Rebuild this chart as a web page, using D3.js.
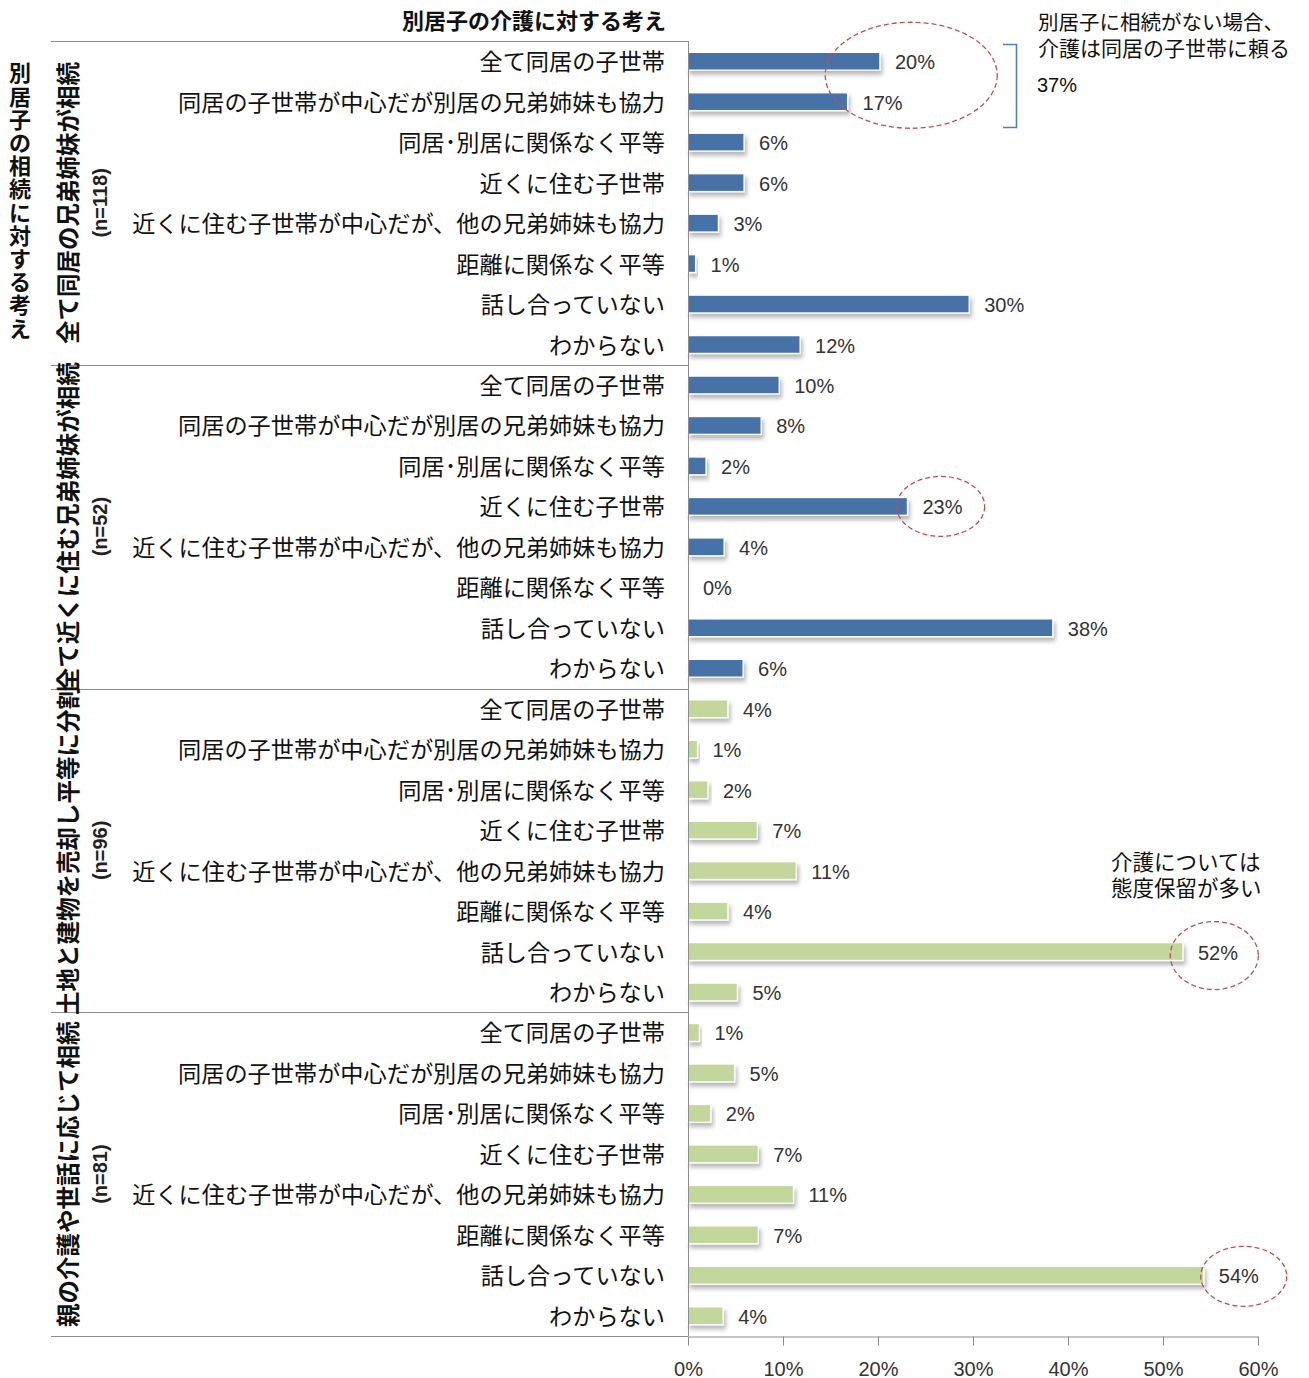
<!DOCTYPE html>
<html>
<head>
<meta charset="utf-8">
<script src="https://cdn.jsdelivr.net/npm/d3@7"></script>
<style>
  body { margin: 0; background: #fff; }
  text { font-family: "Noto Sans CJK JP", sans-serif; }
  .num { font-family: "Liberation Sans", "Noto Sans", sans-serif; }
</style>
</head>
<body>
<div id="chart"></div>
<script>
// 別居子の相続に対する考え x 別居子の介護に対する考え
var groups = ["全て同居の兄弟姉妹が相続", "全て近くに住む兄弟姉妹が相続", "土地と建物を売却し平等に分割", "親の介護や世話に応じて相続"];
var groupN = ["(n=118)", "(n=52)", "(n=96)", "(n=81)"];
var options = ["全て同居の子世帯", "同居の子世帯が中心だが別居の兄弟姉妹も協力", "同居･別居に関係なく平等", "近くに住む子世帯",
  "近くに住む子世帯が中心だが、他の兄弟姉妹も協力", "距離に関係なく平等", "話し合っていない", "わからない"];
var vals1 = [20.2, 16.8, 5.9, 5.9, 3.2, 0.8, 29.6, 11.8];
var vals2 = [9.6, 7.7, 1.9, 23.1, 3.8, 0, 38.4, 5.8];
var vals3 = [4.2, 1.0, 2.1, 7.3, 11.4, 4.2, 52.1, 5.2];
var vals4 = [1.2, 4.9, 2.4, 7.4, 11.1, 7.4, 54.3, 3.7];
var groupColor = ["#4672a8", "#4672a8", "#c3d69b", "#c3d69b"];
var xTicks = [0, 10, 20, 30, 40, 50, 60];
var leftTitle = "別居子の相続に対する考え";

var allVals = [vals1, vals2, vals3, vals4];
var rows = [];
allVals.forEach(function(vs, g){
  vs.forEach(function(v, i){
    rows.push({key: g + "-" + i, group: g, label: options[i], value: v});
  });
});

var width = 1309, height = 1378;
var plotLeft = 688, plotRight = 1258, plotTop = 41, plotBottom = 1336;

var svg = d3.select("#chart").append("svg")
  .attr("width", width).attr("height", height);

var defs = svg.append("defs");
var f = defs.append("filter").attr("id", "shadow")
  .attr("x", "-10%").attr("y", "-30%").attr("width", "130%").attr("height", "200%");
f.append("feDropShadow").attr("dx", 2).attr("dy", 4).attr("stdDeviation", 2)
  .attr("flood-color", "#000").attr("flood-opacity", 0.28);

var x = d3.scaleLinear().domain([0, 60]).range([plotLeft, plotRight]);
var y = d3.scaleBand().domain(rows.map(function(d){ return d.key; }))
  .range([plotTop, plotBottom]).paddingInner(0.56).paddingOuter(0.28);
var rowH = (plotBottom - plotTop) / rows.length;

// group separators
var sepY = d3.range(groups.length + 1).map(function(g){ return plotTop + g * 8 * rowH; });
svg.selectAll(".sep").data(sepY).enter().append("line")
  .attr("x1", 51).attr("x2", plotLeft)
  .attr("y1", function(d){ return Math.round(d) + 0.5; })
  .attr("y2", function(d){ return Math.round(d) + 0.5; })
  .style("stroke", "#8c8c8c").style("stroke-width", 1.2);

// bars
svg.append("g").selectAll("rect").data(rows.filter(function(d){ return d.value > 0; }))
  .enter().append("rect")
    .attr("x", plotLeft)
    .attr("y", function(d){ return y(d.key); })
    .attr("width", function(d){ return x(d.value) - plotLeft; })
    .attr("height", y.bandwidth())
    .attr("fill", function(d){ return groupColor[d.group]; })
    .style("stroke", "#fff").style("stroke-width", 1.3)
    .attr("filter", "url(#shadow)");

// value labels
svg.append("g").selectAll("text").data(rows).enter().append("text")
  .attr("class", "num")
  .attr("x", function(d){ return x(d.value) + 15; })
  .attr("y", function(d){ return y(d.key) + y.bandwidth() / 2 + 8; })
  .attr("font-size", 20).attr("fill", "#333")
  .text(function(d){ return Math.round(d.value) + "%"; });

// category labels
svg.append("g").selectAll("text").data(rows).enter().append("text")
  .attr("x", plotLeft - 23)
  .attr("y", function(d){ return y(d.key) + y.bandwidth() / 2 + 9; })
  .attr("text-anchor", "end").attr("font-size", 23.2).attr("fill", "#111")
  .text(function(d){ return d.label; });

// group labels
groups.forEach(function(g, i){
  var cy = (sepY[i] + sepY[i + 1]) / 2;
  svg.append("text")
    .attr("transform", "translate(77," + cy + ") rotate(-90)")
    .attr("text-anchor", "middle").attr("font-size", 23.5).attr("font-weight", "bold").attr("fill", "#111")
    .text(g);
  svg.append("text").attr("class", "num")
    .attr("transform", "translate(107," + cy + ") rotate(-90)")
    .attr("text-anchor", "middle").attr("font-size", 20).attr("font-weight", "bold").attr("fill", "#222")
    .text(groupN[i]);
});

// x axis
var axis = svg.append("g").attr("transform", "translate(0," + (plotBottom + 0.5) + ")")
  .call(d3.axisBottom(x).tickValues(xTicks).tickSize(9).tickSizeOuter(0)
    .tickFormat(function(d){ return d + "%"; }));
axis.select(".domain").style("stroke", "#8c8c8c");
axis.selectAll(".tick line").style("stroke", "#8c8c8c");
axis.selectAll(".tick text").attr("class", "num").attr("font-size", 20).attr("fill", "#333")
  .attr("y", 39).attr("dy", 0);

// vertical axis line
svg.append("line").attr("x1", plotLeft + 0.5).attr("x2", plotLeft + 0.5).attr("y1", plotTop).attr("y2", plotBottom)
  .style("stroke", "#8c8c8c");

// titles
svg.append("text").attr("x", 666).attr("y", 29).attr("text-anchor", "end")
  .attr("font-size", 22).attr("font-weight", "bold").attr("fill", "#111")
  .text("別居子の介護に対する考え");
svg.append("text")
  .attr("text-anchor", "middle").attr("font-size", 22).attr("font-weight", "bold").attr("fill", "#111")
  .selectAll("tspan").data(leftTitle.split("")).enter().append("tspan")
    .attr("x", 20)
    .attr("y", function(d, i){ return 201 + (i - 5.5) * 23.2 + 8; })
    .text(function(d){ return d; });

// annotations
var ann = svg.append("g");
function ellipse(cx, cy, rx, ry){
  ann.append("ellipse").attr("cx", cx).attr("cy", cy).attr("rx", rx).attr("ry", ry)
    .attr("fill", "none").style("stroke", "#c0504d").style("stroke-width", 1.3)
    .style("stroke-dasharray", "5,3");
}
function rowMid(g, i){ return y(g + "-" + i) + y.bandwidth() / 2; }
ellipse(x(23.5), rowMid(0, 0) + 14, 86, 53);
ellipse(x(26.6), rowMid(1, 3), 44, 30);
ellipse(x(55.4), rowMid(2, 6) + 4, 44, 34);
ellipse(x(58.5), rowMid(3, 6) + 1, 43, 30);

ann.append("path")
  .attr("d", "M1003,44.5 H1016.5 V127.5 H1003")
  .attr("fill", "none").style("stroke", "#4f81bd").style("stroke-width", 1.6);

ann.append("text").attr("x", 1038).attr("y", 30).attr("font-size", 20.5).attr("fill", "#111")
  .text("別居子に相続がない場合、");
ann.append("text").attr("x", 1038).attr("y", 56).attr("font-size", 21).attr("fill", "#111")
  .text("介護は同居の子世帯に頼る");
ann.append("text").attr("x", 1037).attr("y", 92).attr("font-size", 20)
  .attr("fill", "#111").style("font-family", "'Liberation Sans Narrow', 'Liberation Sans', sans-serif")
  .text("37%");
ann.append("text").attr("x", 1111).attr("y", 870).attr("font-size", 21.5).attr("fill", "#111")
  .text("介護については");
ann.append("text").attr("x", 1111).attr("y", 896).attr("font-size", 21.5).attr("fill", "#111")
  .text("態度保留が多い");
</script>
</body>
</html>
